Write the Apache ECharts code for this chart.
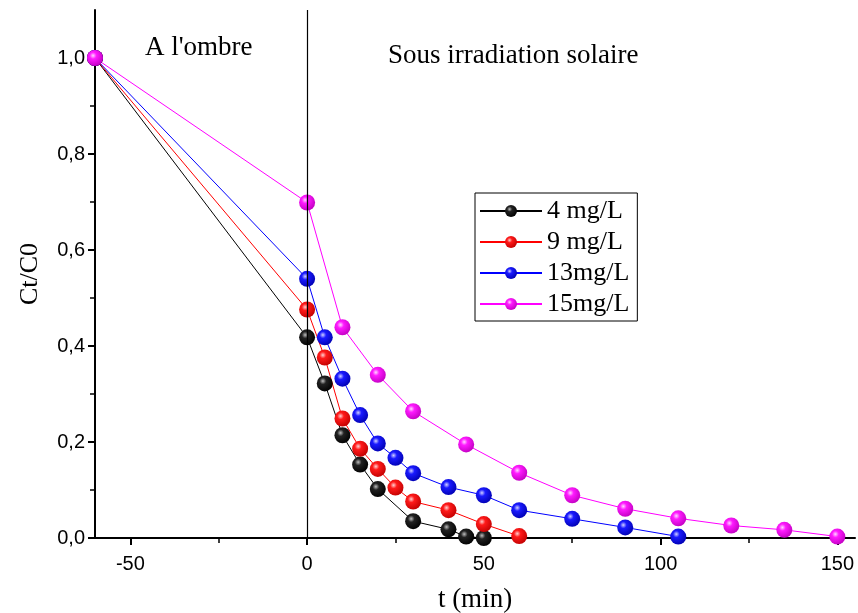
<!DOCTYPE html>
<html>
<head>
<meta charset="utf-8">
<script src="https://cdn.jsdelivr.net/npm/echarts@6/dist/echarts.min.js"></script>
<style>
  html, body { margin: 0; padding: 0; background: #fff; }
  #chart { width: 858px; height: 613px; }
</style>
</head>
<body>
<div id="chart"></div>
<script>
// temps (min) et Ct/C0 pour chaque concentration
var t4 = [-60, 0, 5, 10, 15, 20, 30, 40, 45, 50];
var c4 = [1.0, 0.418, 0.322, 0.214, 0.153, 0.102, 0.035, 0.018, 0.003, 0.0];
var t9 = [-60, 0, 5, 10, 15, 20, 25, 30, 40, 50, 60];
var c9 = [1.0, 0.476, 0.376, 0.249, 0.186, 0.144, 0.105, 0.076, 0.058, 0.029, 0.004];
var t13 = [-60, 0, 5, 10, 15, 20, 25, 30, 40, 50, 60, 75, 90, 105];
var c13 = [1.0, 0.54, 0.418, 0.332, 0.256, 0.197, 0.167, 0.135, 0.106, 0.089, 0.058, 0.040, 0.022, 0.003];
var t15 = [-60, 0, 10, 20, 30, 45, 60, 75, 90, 105, 120, 135, 150];
var c15 = [1.0, 0.699, 0.439, 0.340, 0.264, 0.195, 0.136, 0.089, 0.061, 0.041, 0.026, 0.017, 0.003];

var names = ['4 mg/L', '9 mg/L', '13mg/L', '15mg/L'];
var xMajor = [-50, 0, 50, 100, 150];
var xMinor = [-25, 25, 75, 125];
var yMajor = [0, 0.2, 0.4, 0.6, 0.8, 1.0];
var yMinor = [0.1, 0.3, 0.5, 0.7, 0.9];

function pairs(t, c) {
  var out = [];
  for (var i = 0; i < t.length; i++) out.push([t[i], c[i]]);
  return out;
}

// bille avec reflet
function ball(light, main, dark) {
  return {
    type: 'radial', x: 0.38, y: 0.35, r: 0.7,
    colorStops: [
      { offset: 0, color: light },
      { offset: 0.3, color: main },
      { offset: 1, color: dark }
    ]
  };
}

function mkSeries(name, t, c, lineColor, fill, extra) {
  var s = {
    name: name,
    type: 'line',
    data: pairs(t, c),
    symbol: 'circle',
    symbolSize: 16,
    clip: false,
    lineStyle: { color: lineColor, width: 1 },
    itemStyle: { color: fill, borderWidth: 0 },
    emphasis: { disabled: true },
    z: 3
  };
  if (extra) for (var k in extra) s[k] = extra[k];
  return s;
}

var serif = '"Liberation Serif", "DejaVu Serif", serif';
var sans = '"Liberation Sans", Arial, sans-serif';

var chart = echarts.init(document.getElementById('chart'));
var option = {
  animation: false,
  backgroundColor: '#fff',
  grid: { left: 95, right: 3, top: 10, bottom: 75, outerBoundsMode: 'none', containLabel: false },
  legend: {
    orient: 'vertical',
    left: 475,
    top: 193,
    padding: [5, 8, 4, 4],
    borderColor: '#000',
    borderWidth: 1,
    itemWidth: 62,
    itemHeight: 15,
    itemGap: 5,
    textStyle: { fontFamily: serif, fontSize: 26, lineHeight: 26, color: '#000' },
    data: names
  },
  xAxis: [{
    type: 'value',
    min: -60, max: 155,
    splitLine: { show: false },
    axisLine: { onZero: false, lineStyle: { color: '#000', width: 2 } },
    axisTick: { customValues: xMajor, length: 7, lineStyle: { color: '#000', width: 2 } },
    axisLabel: { customValues: xMajor, color: '#000', fontFamily: sans, fontSize: 20, margin: 16 },
    name: 't (min)',
    nameLocation: 'middle',
    nameGap: 48,
    nameTextStyle: { fontFamily: serif, fontSize: 27, color: '#000' }
  }, {
    type: 'value',
    position: 'bottom',
    min: -60, max: 155,
    splitLine: { show: false },
    axisLine: { show: false, onZero: false },
    axisTick: { show: true, customValues: xMinor, length: 5, lineStyle: { color: '#000', width: 1.5 } },
    axisLabel: { show: false }
  }],
  yAxis: [{
    type: 'value',
    min: 0, max: 1.1,
    splitLine: { show: false },
    axisLine: { onZero: false, lineStyle: { color: '#000', width: 2 } },
    axisTick: { customValues: yMajor, length: 7, lineStyle: { color: '#000', width: 2 } },
    axisLabel: {
      customValues: yMajor, color: '#000', fontFamily: sans, fontSize: 20, margin: 10,
      formatter: function (v) { return v.toFixed(1).replace('.', ','); }
    },
    name: 'Ct/C0',
    nameLocation: 'middle',
    nameGap: 52,
    nameTextStyle: { fontFamily: serif, fontSize: 26, color: '#000' }
  }, {
    type: 'value',
    position: 'left',
    min: 0, max: 1.1,
    splitLine: { show: false },
    axisLine: { show: false, onZero: false },
    axisTick: { show: true, customValues: yMinor, length: 5, lineStyle: { color: '#000', width: 1.5 } },
    axisLabel: { show: false }
  }],
  series: [
    mkSeries(names[0], t4, c4, '#000', ball('#bdbdbd', '#222', '#000'), {
      markLine: {
        silent: true,
        symbol: 'none',
        label: { show: false },
        lineStyle: { color: '#000', width: 1.2, type: 'solid' },
        data: [{ xAxis: 0 }]
      }
    }),
    mkSeries(names[1], t9, c9, '#ff0000', ball('#ffd0d0', '#ff1a1a', '#c00000')),
    mkSeries(names[2], t13, c13, '#0000ff', ball('#d0d0ff', '#1a1aff', '#0000b0')),
    mkSeries(names[3], t15, c15, '#ff00ff', ball('#ffd6ff', '#ff1aff', '#c000c0'))
  ],
  graphic: [
    { type: 'text', left: 145, top: 34, style: { text: "A l'ombre", font: '27px ' + serif, fill: '#000' } },
    { type: 'text', left: 388, top: 42, style: { text: 'Sous irradiation solaire', font: '27px ' + serif, fill: '#000' } }
  ]
};
chart.setOption(option);
</script>
</body>
</html>
